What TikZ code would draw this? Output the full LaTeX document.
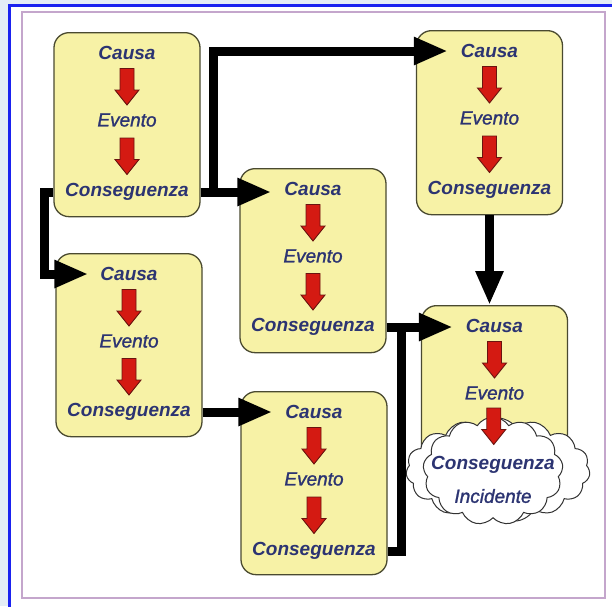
\documentclass[tikz,border=0pt]{standalone}
\usepackage{fontspec}
\setmainfont{Liberation Sans}
\newfontfamily\medital[FakeBold=1.3]{Liberation Sans Italic}
\usetikzlibrary{arrows.meta,shapes.symbols,calc}
\definecolor{bgblue}{HTML}{E4EDF6}
\definecolor{frameblue}{HTML}{1A22F0}
\definecolor{lilac}{HTML}{C4A6CC}
\definecolor{boxfill}{HTML}{F7F2A6}
\definecolor{boxline}{HTML}{4A4A30}
\definecolor{navy}{HTML}{2C3472}
\definecolor{redfill}{HTML}{D41A12}
\definecolor{redline}{HTML}{6A1410}
\tikzset{
  cbox/.style={draw=boxline, line width=1.3pt, fill=boxfill, rounded corners=15pt,
    minimum width=146pt, inner sep=0pt},
  lblb/.style={text=navy, font=\fontsize{19}{22}\selectfont\bfseries\itshape, inner sep=0pt},
  lbli/.style={text=navy, font=\fontsize{19}{22}\selectfont\medital, inner sep=0pt},
  conn/.style={line width=9pt, black, line join=miter,
    -{Triangle[length=34pt,width=26pt]}},
  redarrow/.pic={
    \draw[fill=redfill, draw=redline, line width=0.9pt]
      (-7,-18) -- (7,-18) -- (7,3.5) -- (12,3.5) -- (0,18.5) -- (-12,3.5) -- (-7,3.5) -- cycle;
  },
  cloudsh/.style={cloud, cloud puffs=13, cloud puff arc=115, draw=black!80, line width=1pt,
    fill=white, inner sep=0pt, aspect=1.6}
}
\newcommand\causebox[4]{% name, cx, top, height
  \node[cbox, minimum height=#4pt, anchor=north] (#1) at (#2,#3) {};
  \node[lblb] (#1-c) at (#2,#3+21) {Causa};
  \node[lbli] (#1-e) at (#2,#3+88) {Evento};
  \path ($(#1-c)!0.5!(#1-e)$) pic {redarrow};
}
\newcommand\consline[2]{% name, cx
  \node[lblb] (#1-q) at (#2,\csname y#1\endcsname) {Conseguenza};
  \path ($(#1-e)!0.5!(#1-q)$) pic {redarrow};
}
\begin{document}
\begin{tikzpicture}[x=1pt,y=-1pt]
\useasboundingbox (0,0) rectangle (612,606);
\fill[bgblue] (0,0) rectangle (612,606);
\filldraw[fill=white, draw=frameblue, line width=3pt] (9,5) rectangle (640,640);
\draw[lilac, line width=2pt] (22,12) rectangle (605,598);

% boxes
\causebox{A}{127}{32}{184}
\causebox{B}{129}{253}{183}
\causebox{C}{313}{168}{184}
\causebox{D}{314}{391}{183}
\causebox{E}{489.5}{30}{184}
\causebox{F}{494.5}{305}{184}
\def\yA{192}\def\yB{412}\def\yC{327}\def\yD{551}\def\yE{190}
\consline{A}{127}
\consline{B}{129}
\consline{C}{313}
\consline{D}{314}
\consline{E}{489.5}

% cloud on box F
\node[cloudsh, cloud puffs=15, minimum width=184pt, minimum height=104pt] (G0) at (498,470) {};
\node[cloudsh, minimum width=140pt, minimum height=108pt] (G) at (493,471) {};
\node[lblb] (F-q) at (493,465) {Conseguenza};
\node[lbli] (F-i) at (493,496) {Incidente};
\path ($(F-e)!0.5!(F-q)$) ++(0,-3) pic {redarrow};

% connectors
\coordinate (j1) at (213,0);
\coordinate (j2) at (44,0);
\coordinate (j3) at (401,0);
\draw[conn] (A.east |- A-q) -- ([xshift=-13pt]C-c.west |- A-q);
\draw[conn] (A.east |- A-q) -- (j1 |- A-q) -- (j1 |- E-c) -- ([xshift=-13pt]E-c.west);
\draw[conn] (A.west |- A-q) -- (j2 |- A-q) -- (j2 |- B-c) -- ([xshift=-12pt]B-c.west);
\draw[conn] (B.east |- B-q) -- ([xshift=-13pt]D-c.west |- B-q);
\draw[conn] (E.south) -- (E.south |- F.north);
\draw[conn] (C.east |- C-q) -- ([xshift=-13pt]F-c.west |- C-q);
\draw[line width=9pt, line join=miter] (D.east |- D-q) -- (j3 |- D-q) -- ([yshift=4.5pt]j3 |- C-q);
\end{tikzpicture}
\end{document}
